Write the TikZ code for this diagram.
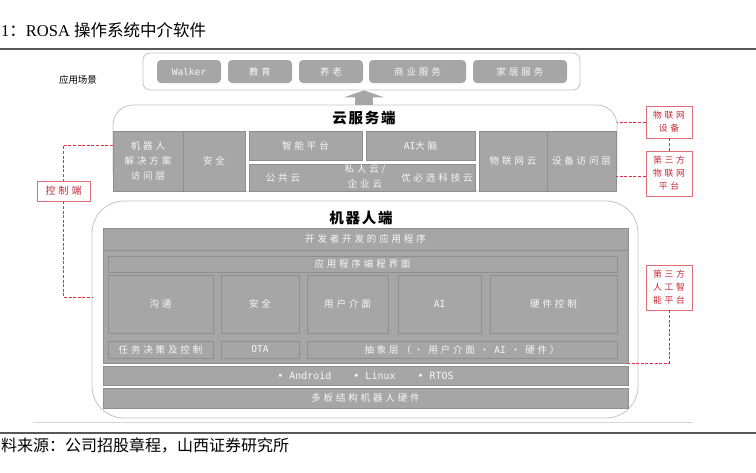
\documentclass[tikz,border=0pt]{standalone}
\usepackage{fontspec}
\usepackage{tikz}
\usetikzlibrary{arrows.meta}
\setmainfont{Liberation Serif}
\setmonofont{DejaVu Sans Mono}
\newfontfamily\cjk{Noto Sans CJK SC}
\newfontfamily\cjksp[LetterSpace=30]{Noto Sans CJK SC}
\newfontfamily\cjkhd[LetterSpace=12]{Noto Sans CJK SC}
\newcommand{\boxtextfont}{\cjksp\fontsize{9.5}{15}\selectfont}
\newcommand{\redtextfont}{\cjksp\fontsize{8.8}{13}\selectfont}
\definecolor{boxgray}{HTML}{A6A6A6}
\definecolor{linegray}{HTML}{8E8E8E}
\definecolor{framegray}{HTML}{C4C4C4}
\definecolor{boxtext}{HTML}{F7F7F7}
\definecolor{redline}{RGB}{222,110,120}
\definecolor{redtext}{RGB}{196,40,52}
\definecolor{reddash}{RGB}{225,45,70}
\definecolor{rulegray}{HTML}{595959}

\begin{document}
\begin{tikzpicture}[x=1pt, y=-1pt,
    gbox/.style={draw=linegray, line width=0.6pt, fill=boxgray, text=boxtext, inner sep=0pt, align=center, font=\boxtextfont},
    appbox/.style={gbox, draw=none, rounded corners=4pt},
    redbox/.style={draw=redline, line width=0.7pt, fill=white, text=redtext, inner sep=0pt, align=center, font=\redtextfont},
    frame/.style={draw=framegray, line width=0.8pt, fill=white},
    link/.style={draw=reddash, line width=1pt, dash pattern=on 3pt off 1.6pt},
    intext/.style={inner sep=0pt, text=boxtext, align=center, font=\boxtextfont},
    uparrow/.style={draw=boxgray, line width=18pt, -{Triangle[length=7pt, width=40pt]}}]
    \useasboundingbox (0,0) rectangle (756,472);
    \node[anchor=west, inner sep=0pt, font=\fontsize{16.5}{20}\selectfont] (title) at (1,30) {1{\cjk ：}ROSA {\cjk 操作系统中介软件}};
    \draw[rulegray, line width=1.2pt] (0,49) -- (756,49);
    \node[inner sep=0pt, font=\cjk\fontsize{9.5}{12}\selectfont] (scenes) at (78,80) {应用场景};
    \node[frame, rounded corners=7pt, minimum width=437pt, minimum height=37pt] (apps) at (361.5,71.5) {};
    \node[appbox, minimum width=64pt, minimum height=23pt] (walker) at (189,71.5) {\ttfamily Walker};
    \node[appbox, minimum width=64pt, minimum height=23pt] (edu) at (260,71.5) {教育};
    \node[appbox, minimum width=64pt, minimum height=23pt] (elder) at (331,71.5) {养老};
    \node[appbox, minimum width=97pt, minimum height=23pt] (biz) at (417.5,71.5) {商业服务};
    \node[appbox, minimum width=94pt, minimum height=23pt] (home) at (520,71.5) {家居服务};

    \node[frame, rounded corners=20pt, minimum width=504pt, minimum height=86pt] (cloud) at (365,148) {};
    \coordinate (upx) at (364,0);
    \draw[uparrow] (cloud.north -| upx) -- (apps.south -| upx);
    \node[inner sep=0pt, font=\cjkhd\bfseries\fontsize{14.5}{16}\selectfont] (cloudtitle) at (364,118) {云服务端};
    \node[gbox, minimum width=70pt, minimum height=60pt] (rsol) at (148,161) {机器人\\解决方案\\访问层};
    \node[gbox, minimum width=62pt, minimum height=60pt] (csec) at (214,161) {安全};
    \node[gbox, minimum width=113pt, minimum height=29pt] (smart) at (305.5,145.5) {智能平台};
    \node[gbox, minimum width=109pt, minimum height=29pt] (brain) at (420.5,145.5) {{\ttfamily AI}大脑};
    \node[gbox, minimum width=226pt, minimum height=27pt] (clouds) at (362,177.5) {};
    \node[intext] (pubcloud) at (283,178) {公共云};
    \node[intext] (privcloud) at (365,176) {私人云/\\企业云};
    \node[intext] (ubtcloud) at (437,178) {优必选科技云};
    \node[gbox, minimum width=68pt, minimum height=60pt] (iotcloud) at (513,161) {物联网云};
    \node[gbox, minimum width=69pt, minimum height=60pt] (devaccess) at (581.5,161) {设备访问层};

    \node[redbox, minimum width=46pt, minimum height=32pt] (iotdev) at (669,122) {物联网\\设备};
    \node[redbox, minimum width=46pt, minimum height=45pt] (iotplat) at (669,173.5) {第三方\\物联网\\平台};
    \node[redbox, minimum width=46pt, minimum height=45pt] (aiplat) at (669,287.5) {第三方\\人工智\\能平台};
    \node[redbox, minimum width=53pt, minimum height=20pt, font=\cjksp\fontsize{10}{12}\selectfont] (ctrl) at (63.5,191) {控制端};

    \node[frame, rounded corners=32pt, minimum width=546pt, minimum height=217pt] (robot) at (365,309.5) {};
    \node[inner sep=0pt, font=\cjkhd\bfseries\fontsize{14.5}{16}\selectfont] (robottitle) at (361,218) {机器人端};
    \node[gbox, minimum width=525pt, minimum height=22pt] (devapps) at (365.5,239) {开发者开发的应用程序};
    \node[gbox, minimum width=525pt, minimum height=113pt] (apiarea) at (365.5,306.5) {};
    \node[gbox, minimum width=509pt, minimum height=16pt] (apiif) at (362.5,264) {应用程序编程界面};
    \node[gbox, minimum width=105pt, minimum height=58pt] (comm) at (160.5,304) {沟通};
    \node[gbox, minimum width=78pt, minimum height=58pt] (rsec) at (260,304) {安全};
    \node[gbox, minimum width=81pt, minimum height=58pt] (ui) at (347.5,304) {用户介面};
    \node[gbox, minimum width=83pt, minimum height=58pt] (ai) at (439.5,304) {\ttfamily AI};
    \node[gbox, minimum width=127pt, minimum height=58pt] (hwctl) at (553.5,304) {硬件控制};
    \node[gbox, minimum width=105pt, minimum height=17pt] (task) at (160.5,349.5) {任务决策及控制};
    \node[gbox, minimum width=78pt, minimum height=17pt] (ota) at (260,349.5) {\ttfamily OTA};
    \node[gbox, minimum width=310pt, minimum height=17pt] (abstr) at (462,349.5) {抽象层（• 用户介面 • {\ttfamily AI} • 硬件）};
    \node[gbox, minimum width=525pt, minimum height=19pt] (osrow) at (365.5,375.5) {\ttfamily\fontsize{10}{12}\selectfont • Android\hspace{22pt}• Linux\hspace{22pt}• RTOS};
    \node[gbox, minimum width=525pt, minimum height=20pt] (hwrow) at (365.5,398) {多板结构机器人硬件};

    \draw[link] (iotdev.west) -- (iotdev.west -| cloud.east);
    \draw[link] (iotdev.south) -- (iotplat.north);
    \draw[link] ([yshift=-3pt]iotplat.west) -- ([yshift=-3pt]iotplat.west -| devaccess.east);
    \draw[link] (aiplat.south) |- (apiarea.south east);
    \draw[link] ([yshift=16pt]rsol.west) -| (ctrl.north);
    \draw[link] (ctrl.south) |- ([yshift=12pt]robot.west);

    \draw[framegray!70, line width=0.8pt] (33,422) -- (693,422);
    \draw[rulegray, line width=1.2pt] (0,433) -- (756,433);
    \node[anchor=west, inner sep=0pt, font=\cjk\fontsize{16}{20}\selectfont] (source) at (1,446) {料来源：公司招股章程，山西证券研究所};
\end{tikzpicture}
\end{document}
